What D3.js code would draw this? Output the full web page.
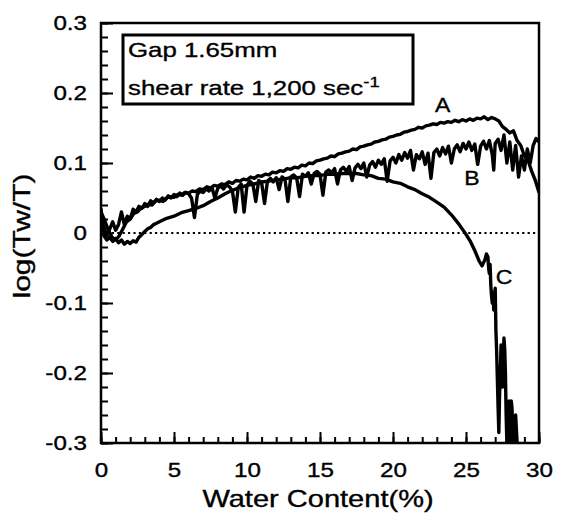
<!DOCTYPE html>
<html>
<head>
<meta charset="utf-8">
<script src="https://cdn.jsdelivr.net/npm/d3@7"></script>
<style>
  body { margin: 0; background: #fff; }
  text { font-family: "Liberation Sans", Arial, Helvetica, sans-serif; fill: #000; stroke: #000; stroke-width: 0.35px; }
</style>
</head>
<body>
<svg id="chart"></svg>
<script>
// log(Tw/T) vs water content, three runs (A, B, C)

const svg_w = 562;
const svg_h = 513;
// plot frame in pixels
const frame = {l: 101, r: 539, t: 23, b: 443};

// axis ticks
const x_major = [0, 5, 10, 15, 20, 25, 30];
const x_minor = d3.range(0, 31, 1);
const y_major = [-0.3, -0.2, -0.1, 0, 0.1, 0.2, 0.3];
const y_minor = d3.range(-30, 31, 2).map(d => d / 100);
const y_labels = {"-0.3": "-0.3", "-0.2": "-0.2", "-0.1": "-0.1", "0": "0", "0.1": "0.1", "0.2": "0.2", "0.3": "0.3"};

// curve A: smooth, rising to a max near 27 %
const curve_a = [
  [0,0.030],[0.25,0.018],[0.5,0.004],[0.75,-0.006],[1,-0.010],[1.25,-0.004],[1.5,0.006],[1.75,0.016],
  [2,0.020],[2.25,0.028],[2.5,0.030],[2.75,0.036],[3,0.038],[3.25,0.041],[3.5,0.040],[3.75,0.046],
  [4,0.047],[4.25,0.045],[4.5,0.050],[4.75,0.052],[5,0.051],[5.25,0.055],[5.5,0.054],[5.75,0.058],
  [6,0.057],[6.25,0.060],[6.5,0.059],[6.75,0.063],[7,0.062],[7.25,0.066],[7.5,0.064],[7.75,0.068],
  [8,0.067],[8.25,0.070],[8.5,0.069],[8.75,0.073],[9,0.071],[9.25,0.075],[9.5,0.074],[9.75,0.077],
  [10,0.076],[10.25,0.080],[10.5,0.078],[10.75,0.082],[11,0.081],[11.25,0.084],[11.5,0.083],[11.75,0.087],
  [12,0.086],[12.25,0.089],[12.5,0.088],[12.75,0.092],[13,0.091],[13.25,0.094],[13.5,0.093],[13.75,0.097],
  [14,0.096],[14.25,0.100],[14.5,0.099],[14.75,0.103],[15,0.104],[15.25,0.106],[15.5,0.107],[15.75,0.110],
  [16,0.109],[16.25,0.113],[16.5,0.114],[16.75,0.116],[17,0.117],[17.25,0.120],[17.5,0.119],[17.75,0.123],
  [18,0.124],[18.25,0.126],[18.5,0.127],[18.75,0.130],[19,0.131],[19.25,0.133],[19.5,0.134],[19.75,0.137],
  [20,0.138],[20.25,0.140],[20.5,0.141],[20.75,0.144],[21,0.145],[21.25,0.147],[21.5,0.148],[21.75,0.151],
  [22,0.150],[22.25,0.153],[22.5,0.154],[22.75,0.156],[23,0.155],[23.25,0.158],[23.5,0.157],[23.75,0.159],
  [24,0.158],[24.25,0.161],[24.5,0.159],[24.75,0.162],[25,0.160],[25.25,0.163],[25.5,0.161],[25.75,0.164],
  [26,0.163],[26.25,0.166],[26.5,0.162],[26.75,0.165],[27,0.163],[27.25,0.160],[27.5,0.152],[27.75,0.148],
  [28,0.143],[28.25,0.146],[28.5,0.132],[28.75,0.125],[29,0.110],[29.25,0.104],[29.5,0.088],[29.75,0.075],
  [30,0.058]
];

// curve B: noisy, with many downward spikes
const curve_b = [
  [0,0.022],[0.2,0.008],[0.4,-0.004],[0.6,0.006],[0.8,0.016],[1,0.004],[1.2,0.012],[1.4,0.030],
  [1.6,0.012],[1.8,0.024],[2,0.020],[2.2,0.034],[2.4,0.030],[2.6,0.038],[2.8,0.035],[3,0.042],
  [3.2,0.038],[3.4,0.046],[3.6,0.043],[3.8,0.048],[4,0.045],[4.2,0.050],[4.4,0.047],[4.6,0.053],
  [4.8,0.050],[5,0.055],[5.2,0.052],[5.4,0.057],[5.6,0.054],[5.8,0.058],[6,0.056],[6.2,0.050],
  [6.4,0.022],[6.6,0.055],[6.8,0.060],[7,0.058],[7.2,0.063],[7.4,0.060],[7.6,0.065],[7.8,0.050],
  [8,0.064],[8.2,0.067],[8.4,0.063],[8.6,0.069],[8.8,0.066],[9,0.060],[9.2,0.030],[9.4,0.065],
  [9.6,0.070],[9.8,0.030],[10,0.068],[10.2,0.074],[10.4,0.070],[10.6,0.045],[10.8,0.075],[11,0.072],
  [11.2,0.042],[11.4,0.074],[11.6,0.078],[11.8,0.073],[12,0.079],[12.2,0.062],[12.4,0.080],[12.6,0.077],
  [12.8,0.045],[13,0.080],[13.2,0.083],[13.4,0.079],[13.6,0.052],[13.8,0.084],[14,0.081],[14.2,0.086],
  [14.4,0.070],[14.6,0.085],[14.8,0.088],[15,0.084],[15.2,0.054],[15.4,0.087],[15.6,0.090],[15.8,0.086],
  [16,0.092],[16.2,0.070],[16.4,0.090],[16.6,0.094],[16.8,0.088],[17,0.095],[17.2,0.075],[17.4,0.093],
  [17.6,0.098],[17.8,0.092],[18,0.100],[18.2,0.080],[18.4,0.097],[18.6,0.102],[18.8,0.094],[19,0.104],
  [19.2,0.098],[19.4,0.106],[19.6,0.074],[19.8,0.103],[20,0.108],[20.2,0.100],[20.4,0.112],[20.6,0.104],
  [20.8,0.115],[21,0.107],[21.2,0.118],[21.4,0.090],[21.6,0.112],[21.8,0.106],[22,0.116],[22.2,0.098],
  [22.4,0.114],[22.6,0.078],[22.8,0.115],[23,0.120],[23.2,0.110],[23.4,0.122],[23.6,0.113],[23.8,0.124],
  [24,0.100],[24.2,0.120],[24.4,0.126],[24.6,0.116],[24.8,0.128],[25,0.120],[25.2,0.130],[25.4,0.118],
  [25.6,0.127],[25.8,0.098],[26,0.124],[26.2,0.131],[26.4,0.120],[26.6,0.132],[26.8,0.112],[26.9,0.090],
  [27,0.128],[27.2,0.134],[27.4,0.118],[27.6,0.140],[27.8,0.100],[28,0.130],[28.2,0.090],[28.4,0.125],
  [28.6,0.080],[28.8,0.110],[29,0.090],[29.2,0.120],[29.4,0.100],[29.6,0.125],[29.8,0.135],[30,0.130]
];

// curve C: rises to ~0.085 then falls steeply past 25 %
const curve_c = [
  [0,0.035],[0.1,0.012],[0.2,-0.004],[0.4,-0.010],[0.6,-0.006],[0.8,-0.012],[1,-0.008],[1.2,-0.014],
  [1.4,-0.010],[1.6,-0.016],[1.8,-0.012],[2,-0.015],[2.2,-0.011],[2.4,-0.013],[2.6,-0.006],[2.8,-0.002],
  [3,0.002],[3.2,0.006],[3.4,0.008],[3.6,0.012],[3.8,0.014],[4,0.016],[4.5,0.021],[5,0.024],
  [5.5,0.029],[6,0.032],[6.5,0.035],[7,0.039],[7.5,0.045],[8,0.050],[8.5,0.056],[9,0.061],
  [9.5,0.065],[10,0.068],[10.5,0.070],[11,0.073],[11.5,0.074],[12,0.076],[12.5,0.077],[13,0.079],
  [13.5,0.079],[14,0.081],[14.5,0.082],[15,0.082],[15.5,0.084],[16,0.084],[16.5,0.085],[17,0.085],
  [17.5,0.085],[18,0.083],[18.5,0.082],[19,0.078],[19.5,0.077],[20,0.073],[20.5,0.071],[21,0.066],
  [21.5,0.062],[22,0.056],[22.5,0.051],[23,0.044],[23.5,0.037],[24,0.026],[24.5,0.013],[25,-0.002],
  [25.3,-0.012],[25.6,-0.025],[25.9,-0.040],[26.1,-0.047],[26.3,-0.038],[26.4,-0.030],[26.5,-0.034],[26.55,-0.050],
  [26.6,-0.058],[26.65,-0.045],[26.7,-0.075],[26.75,-0.090],[26.8,-0.100],[26.85,-0.085],[26.9,-0.110],[26.95,-0.095],
  [27,-0.079],[27.05,-0.140],[27.1,-0.170],[27.15,-0.210],[27.2,-0.250],[27.25,-0.285],[27.3,-0.230],[27.35,-0.200],
  [27.4,-0.160],[27.45,-0.180],[27.5,-0.220],[27.55,-0.190],[27.6,-0.150],[27.65,-0.165],[27.7,-0.200],[27.75,-0.260],
  [27.8,-0.300],[27.85,-0.310],[27.9,-0.270],[27.95,-0.240],[28,-0.255],[28.05,-0.300],[28.1,-0.240],[28.15,-0.250],
  [28.2,-0.280],[28.3,-0.310],[28.4,-0.260],[28.5,-0.300],[28.6,-0.330]
];

const curve_labels = [
  {name: "A", x: 23.4, y: 0.183},
  {name: "B", x: 25.4, y: 0.079},
  {name: "C", x: 27.6, y: -0.063}
];

const svg = d3.select("#chart")
  .attr("width", svg_w)
  .attr("height", svg_h);

const x_scale = d3.scaleLinear().domain([0, 30]).range([frame.l, frame.r]);
const y_scale = d3.scaleLinear().domain([-0.3, 0.3]).range([frame.b, frame.t]);

// clip the curves to the frame
svg.append("clipPath").attr("id", "plot_clip")
  .append("rect")
  .attr("x", frame.l).attr("y", frame.t)
  .attr("width", frame.r - frame.l).attr("height", frame.b - frame.t);

// zero reference line (dotted)
svg.append("line")
  .attr("x1", x_scale(0)).attr("x2", x_scale(30))
  .attr("y1", y_scale(0)).attr("y2", y_scale(0))
  .attr("stroke", "#000")
  .attr("stroke-width", 2.2)
  .attr("stroke-dasharray", "2.2,3.2");

// ticks, pointing into the plot
function style_axis(g) {
  g.select(".domain").remove();
  g.selectAll(".tick line").attr("stroke", "#000").attr("stroke-width", 2);
}

svg.append("g")
  .attr("transform", `translate(0,${frame.b})`)
  .call(d3.axisBottom(x_scale).tickValues(x_minor).tickSize(-6).tickFormat(""))
  .call(style_axis);

svg.append("g")
  .attr("transform", `translate(0,${frame.b})`)
  .call(d3.axisBottom(x_scale).tickValues(x_major).tickSize(-11).tickFormat(d3.format("d")))
  .call(style_axis)
  .call(g => g.selectAll(".tick text")
    .attr("y", 20)
    .attr("dy", "0.71em")
    .attr("font-size", 19.5)
    .attr("transform", "scale(1.24,1)"));

svg.append("g")
  .attr("transform", `translate(${frame.l},0)`)
  .call(d3.axisLeft(y_scale).tickValues(y_minor).tickSize(-7).tickFormat(""))
  .call(style_axis);

svg.append("g")
  .attr("transform", `translate(${frame.l},0)`)
  .call(d3.axisLeft(y_scale).tickValues(y_major).tickSize(-12).tickFormat(d => y_labels[String(+d.toFixed(1))]))
  .call(style_axis)
  .call(g => g.selectAll(".tick text")
    .attr("x", -14 / 1.24)
    .attr("font-size", 19.5)
    .attr("transform", "scale(1.24,1)"));

// the curves
const line = d3.line()
  .x(d => x_scale(d[0]))
  .y(d => y_scale(d[1]));

svg.append("g")
  .attr("clip-path", "url(#plot_clip)")
  .selectAll("path")
  .data([curve_a, curve_b, curve_c])
  .enter().append("path")
  .attr("d", d => line(d))
  .attr("fill", "none")
  .attr("stroke", "#000")
  .attr("stroke-width", 3.4)
  .attr("stroke-linejoin", "round");

// frame
svg.append("rect")
  .attr("x", frame.l).attr("y", frame.t)
  .attr("width", frame.r - frame.l).attr("height", frame.b - frame.t)
  .attr("fill", "none")
  .attr("stroke", "#000")
  .attr("stroke-width", 2.5);

// curve names
svg.append("g")
  .selectAll("text")
  .data(curve_labels)
  .enter().append("text")
  .attr("transform", d => `translate(${x_scale(d.x)},${y_scale(d.y)}) scale(1.15,1)`)
  .attr("text-anchor", "middle")
  .attr("dy", "0.36em")
  .attr("font-size", 20)
  .text(d => d.name);

// info box
svg.append("rect")
  .attr("x", 123).attr("y", 35)
  .attr("width", 290).attr("height", 69)
  .attr("fill", "#fff")
  .attr("stroke", "#000")
  .attr("stroke-width", 3);

svg.append("text")
  .attr("transform", "translate(128,57) scale(1.23,1)")
  .attr("font-size", 21)
  .text("Gap 1.65mm");

let shear = svg.append("text")
  .attr("transform", "translate(128,95) scale(1.23,1)")
  .attr("font-size", 21)
  .text("shear rate 1,200 sec");
shear.append("tspan")
  .attr("font-size", 15)
  .attr("dy", -8)
  .text("-1");

// axis titles
svg.append("text")
  .attr("transform", "translate(318,507) scale(1.21,1)")
  .attr("text-anchor", "middle")
  .attr("font-size", 24)
  .text("Water Content(%)");

svg.append("text")
  .attr("transform", "translate(30,236) rotate(-90) scale(1.25,1)")
  .attr("text-anchor", "middle")
  .attr("font-size", 24)
  .text("log(Tw/T)");
</script>
</body>
</html>
